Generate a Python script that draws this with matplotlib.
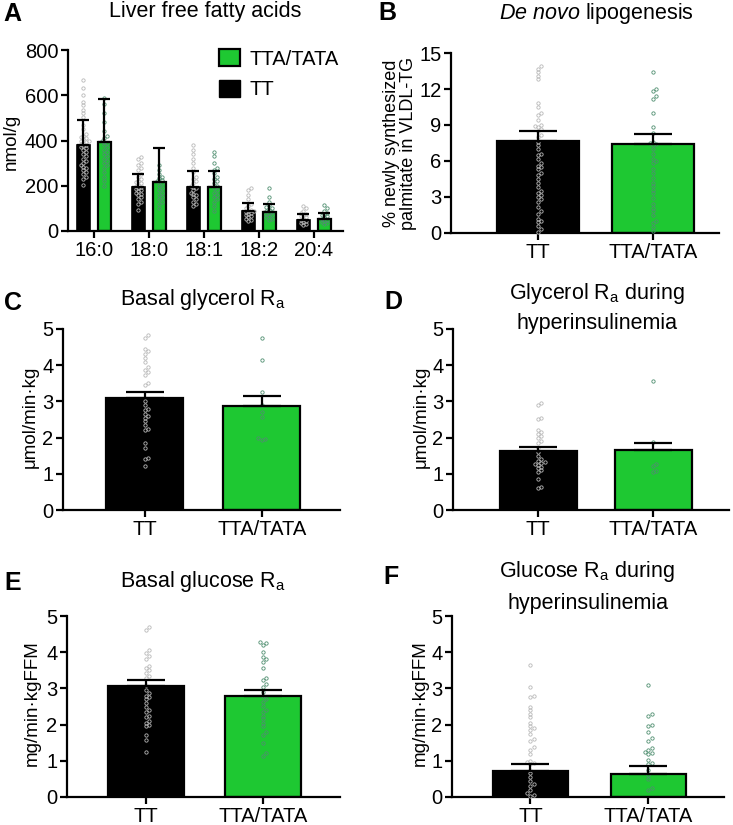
import numpy as np
import matplotlib.pyplot as plt
from matplotlib.patches import Patch

plt.rcParams['font.family'] = ['Liberation Sans', 'DejaVu Sans']
plt.rcParams['mathtext.fontset'] = 'custom'
plt.rcParams['mathtext.rm'] = 'Liberation Sans'
plt.rcParams['mathtext.it'] = 'Liberation Sans:italic'

W, H = 733, 825
GREEN = '#1ec832'
TT_DOT = '#b8b8b8'
TTA_DOT = '#4f8f70'

groups = ['TT', 'TTA/TATA']

# --------------------------
# Panel A: liver free fatty acids (mean + SD)
# --------------------------
fa_labels = ['16:0', '18:0', '18:1', '18:2', '20:4']
fa_tt_mean = [380, 193, 193, 88, 50]
fa_tt_err = [110, 59, 70, 35, 25]
fa_tta_mean = [395, 218, 193, 85, 55]
fa_tta_err = [187, 147, 72, 35, 23]
fa_tt_pts = [
    [667, 630, 600, 570, 555, 535, 520, 505, 470, 450, 430, 420, 415, 410, 405, 400, 398, 395, 390,
     385, 380, 375, 370, 365, 360, 350, 340, 330, 320, 310, 300, 290, 285, 280, 270, 260, 250, 240, 230, 205],
    [325, 320, 300, 290, 280, 270, 250, 240, 230, 220, 215, 210, 205, 200, 195, 190, 185, 180, 175,
     170, 165, 160, 150, 140, 130, 120, 95],
    [380, 360, 340, 320, 300, 280, 260, 240, 230, 220, 210, 200, 195, 190, 180, 170, 165, 160, 150,
     140, 130, 120, 110],
    [190, 180, 160, 140, 120, 110, 100, 95, 90, 88, 85, 80, 75, 70, 65, 60, 55, 50, 45],
    [110, 100, 90, 80, 75, 70, 65, 60, 55, 50, 45, 40, 35, 30, 25],
]
fa_tta_pts = [
    [590, 560, 520, 480, 440, 420, 410, 400, 395, 390, 380, 370, 360, 350, 340, 330, 320, 310, 300,
     290, 280, 260, 240, 220, 200],
    [290, 270, 250, 240, 235, 225, 220, 215, 210, 200, 190, 180, 170, 160, 150, 140, 130, 120, 100],
    [350, 330, 300, 280, 270, 255, 240, 230, 220, 210, 200, 190, 180, 170, 160, 150, 140, 130, 110, 90],
    [190, 150, 130, 115, 105, 100, 95, 90, 85, 80, 75, 70, 65, 60, 55, 50],
    [115, 100, 90, 80, 75, 70, 65, 60, 55, 50, 45, 40, 35, 30],
]

# --------------------------
# Panels B-F: two groups (mean + SEM)
# --------------------------
dnl_mean = [7.65, 7.4]
dnl_err = [0.85, 0.85]
dnl_tt = [13.9, 13.7, 13.4, 13.1, 12.8, 10.8, 10.5, 10.0, 9.8, 9.4, 9.0, 8.9, 8.8, 8.7, 8.5, 8.2, 8.0,
          7.6, 7.3, 7.0, 6.6, 6.5, 6.2, 5.8, 5.6, 5.5, 5.3, 5.0, 4.8, 4.5, 4.2, 3.8, 3.5, 3.3, 3.2, 3.0,
          2.8, 2.6, 2.2, 1.8, 1.6, 1.2, 1.0, 0.9, 0.6, 0.3, 0.1]
dnl_tta = [13.4, 12.0, 11.8, 11.4, 11.2, 10.0, 8.8, 8.3, 7.6, 7.5, 7.4, 7.3, 7.0, 6.6, 6.2, 6.0, 5.8,
           5.3, 5.0, 4.6, 4.2, 3.9, 3.6, 3.3, 2.9, 2.4, 2.1, 1.8, 1.5, 1.0, 0.8, 0.5, 0.2]

bgly_mean = [3.1, 2.88]
bgly_err = [0.17, 0.27]
bgly_tt = [4.83, 4.75, 4.45, 4.38, 4.3, 4.2, 4.1, 3.95, 3.87, 3.8, 3.73, 3.5, 3.45, 3.0, 2.9, 2.8,
           2.75, 2.65, 2.6, 2.55, 2.45, 2.35, 2.25, 2.2, 1.85, 1.7, 1.45, 1.4, 1.22]
bgly_tta = [4.74, 4.15, 3.27, 2.9, 2.72, 2.57, 2.0, 1.95, 1.92]

hgly_mean = [1.62, 1.65]
hgly_err = [0.11, 0.2]
hgly_tt = [2.95, 2.9, 2.55, 2.52, 2.2, 2.15, 2.1, 2.05, 2.0, 1.9, 1.85, 1.7, 1.6, 1.5, 1.4, 1.35,
           1.32, 1.3, 1.28, 1.25, 1.2, 1.15, 1.1, 1.05, 0.85, 0.63, 0.6]
hgly_tta = [3.55, 1.88, 1.28, 1.22, 1.08, 1.05]

bglu_mean = [3.07, 2.8]
bglu_err = [0.15, 0.15]
bglu_tt = [4.7, 4.62, 4.05, 3.98, 3.9, 3.82, 3.62, 3.55, 3.5, 3.42, 3.35, 3.3, 3.1, 2.95, 2.88, 2.8,
           2.75, 2.7, 2.6, 2.5, 2.4, 2.35, 2.25, 2.2, 2.1, 2.05, 2.0, 1.95, 1.72, 1.57, 1.24]
bglu_tta = [4.28, 4.25, 4.2, 4.0, 3.88, 3.8, 3.72, 3.56, 3.3, 3.22, 3.12, 3.05, 2.9, 2.8, 2.7, 2.62,
            2.52, 2.4, 2.35, 2.25, 2.15, 2.05, 1.95, 1.8, 1.72, 1.5, 1.22, 1.13]

hglu_mean = [0.72, 0.63]
hglu_err = [0.2, 0.22]
hglu_tt = [3.65, 3.05, 2.8, 2.75, 2.5, 2.4, 2.3, 2.2, 2.05, 1.95, 1.9, 1.85, 1.75, 1.6, 1.55, 1.38,
           1.3, 1.2, 1.0, 0.98, 0.95, 0.9, 0.75, 0.65, 0.55, 0.45, 0.35, 0.3, 0.2, 0.1, 0.05, 0.02]
hglu_tta = [3.1, 2.3, 2.25, 2.0, 1.95, 1.8, 1.62, 1.55, 1.35, 1.3, 1.25, 1.22, 1.2, 1.02, 0.95, 0.9,
            0.75, 0.6, 0.5, 0.25, 0.2]


fig = plt.figure(figsize=(W / 100, H / 100), dpi=100)


def axes_px(left, top, right, bottom):
    return fig.add_axes([left / W, 1 - bottom / H, (right - left) / W, (bottom - top) / H])


def ftext(x, y, s, **kw):
    fig.text(x / W, 1 - y / H, s, ha='center', va='center', **kw)


def style(ax):
    for s in ['top', 'right']:
        ax.spines[s].set_visible(False)
    for s in ['left', 'bottom']:
        ax.spines[s].set_linewidth(1.6)
    ax.tick_params(axis='both', width=1.6, length=5, labelsize=14.5, pad=2)


def swarm(ax, vals, center, color, spacing_px=3.4):
    # simple deterministic beeswarm in pixel space
    fig.canvas.draw()
    tr = ax.transData
    pts = []
    xs, ys = [], []
    for v in sorted(vals):
        cx, cy = tr.transform((center, v))
        k = 0
        while True:
            off = ((k + 1) // 2) * (1 if k % 2 else -1) * spacing_px
            px = cx + off
            if all((px - qx) ** 2 + (cy - qy) ** 2 >= spacing_px ** 2 for qx, qy in pts):
                break
            k += 1
        pts.append((px, cy))
        xd, yd = tr.inverted().transform((px, cy))
        xs.append(xd)
        ys.append(yd)
    ax.plot(xs, ys, 'o', ms=2.4, mfc='none', mec=color, mew=0.6, zorder=3, clip_on=False)


def bar_panel(ax, means, errs, tt_pts, tta_pts, width, xlim, ylim, yticks, capsize):
    pos = [0, 1]
    ax.bar(pos, means, width, color=['black', GREEN], edgecolor='black', linewidth=1.6, zorder=1)
    ax.errorbar(pos, means, yerr=[[0, 0], errs], fmt='none', ecolor='black', elinewidth=1.6,
                capsize=capsize, capthick=1.6, zorder=4)
    ax.set_xlim(xlim)
    ax.set_ylim(ylim)
    ax.set_yticks(yticks)
    ax.set_xticks(pos)
    ax.set_xticklabels(groups)
    style(ax)
    swarm(ax, tt_pts, 0, TT_DOT)
    swarm(ax, tta_pts, 1, TTA_DOT)


# --------------------------
# Panel A
# --------------------------
axA = axes_px(68, 50, 343, 231)
xg = np.arange(len(fa_labels))
bw = 0.24
axA.bar(xg - 0.19, fa_tt_mean, bw, color='black', edgecolor='black', linewidth=1.2, zorder=1)
axA.bar(xg + 0.19, fa_tta_mean, bw, color=GREEN, edgecolor='black', linewidth=1.6, zorder=1)
axA.errorbar(xg - 0.19, fa_tt_mean, yerr=[np.zeros(5), fa_tt_err], fmt='none', ecolor='black',
             elinewidth=1.6, capsize=4, capthick=1.6, zorder=4)
axA.errorbar(xg + 0.19, fa_tta_mean, yerr=[np.zeros(5), fa_tta_err], fmt='none', ecolor='black',
             elinewidth=1.6, capsize=4, capthick=1.6, zorder=4)
axA.set_xlim(-0.47, 4.53)
axA.set_ylim(0, 800)
axA.set_yticks([0, 200, 400, 600, 800])
axA.set_xticks(xg)
axA.set_xticklabels(fa_labels)
style(axA)
for i in range(len(fa_labels)):
    swarm(axA, fa_tt_pts[i], i - 0.19, TT_DOT, 2.8)
    swarm(axA, fa_tta_pts[i], i + 0.19, TTA_DOT, 2.8)
handles = [Patch(facecolor=GREEN, edgecolor='black', linewidth=1.6, label='TTA/TATA'),
           Patch(facecolor='black', edgecolor='black', label='TT')]
fig.legend(handles=handles, loc='upper left', bbox_to_anchor=(219 / W, 1 - 49 / H), frameon=False,
           fontsize=14.5, handlelength=1.05, handleheight=0.95, handletextpad=0.45, labelspacing=0.55,
           borderpad=0, borderaxespad=0)

# --------------------------
# Panels B-F
# --------------------------
axB = axes_px(451, 53, 719, 233)
bar_panel(axB, dnl_mean, dnl_err, dnl_tt, dnl_tta, 0.72, (-0.757, 1.574), (0, 15),
          [0, 3, 6, 9, 12, 15], 13.5)

axC = axes_px(63, 329, 340, 510)
bar_panel(axC, bgly_mean, bgly_err, bgly_tt, bgly_tta, 0.66, (-0.70, 1.67), (0, 5), range(6), 13.5)

axD = axes_px(453, 329, 729, 510)
bar_panel(axD, hgly_mean, hgly_err, hgly_tt, hgly_tta, 0.67, (-0.74, 1.66), (0, 5), range(6), 13.5)

axE = axes_px(67, 616, 340, 797)
bar_panel(axE, bglu_mean, bglu_err, bglu_tt, bglu_tta, 0.65, (-0.67, 1.655), (0, 5), range(6), 13.5)

axF = axes_px(452, 616, 724, 797)
bar_panel(axF, hglu_mean, hglu_err, hglu_tt, hglu_tta, 0.63, (-0.665, 1.64), (0, 5), range(6), 13.5)

# --------------------------
# Titles, y labels, panel letters
# --------------------------
TS = 15.5
ftext(205, 12, 'Liver free fatty acids', fontsize=TS)
ftext(596, 13, r'$\it{De\ novo}$ lipogenesis', fontsize=TS)
ftext(203, 300, r'Basal glycerol R$_\mathrm{a}$', fontsize=TS)
ftext(597, 293, r'Glycerol R$_\mathrm{a}$ during', fontsize=TS)
ftext(597, 323, 'hyperinsulinemia', fontsize=TS)
ftext(203, 582, r'Basal glucose R$_\mathrm{a}$', fontsize=TS)
ftext(587, 572, r'Glucose R$_\mathrm{a}$ during', fontsize=TS)
ftext(588, 603, 'hyperinsulinemia', fontsize=TS)

YS = 13.5
ftext(11, 142, 'nmol/g', fontsize=YS, rotation=90)
ftext(400, 143, '% newly synthesized\npalmitate in VLDL-TG', fontsize=13, rotation=90, linespacing=1.0)
ftext(30, 417, 'μmol/min·kg', fontsize=YS, rotation=90)
ftext(421, 417, 'μmol/min·kg', fontsize=YS, rotation=90)
ftext(32, 703, 'mg/min·kgFFM', fontsize=YS, rotation=90)
ftext(420, 703, 'mg/min·kgFFM', fontsize=YS, rotation=90)

LS = 18
for letter, x, y in [('A', 12, 14), ('B', 387, 13), ('C', 13, 303),
                     ('D', 393, 302), ('E', 13, 583), ('F', 391, 577)]:
    ftext(x, y, letter, fontsize=LS, fontweight='bold')

fig.savefig('out.png', dpi=100)
